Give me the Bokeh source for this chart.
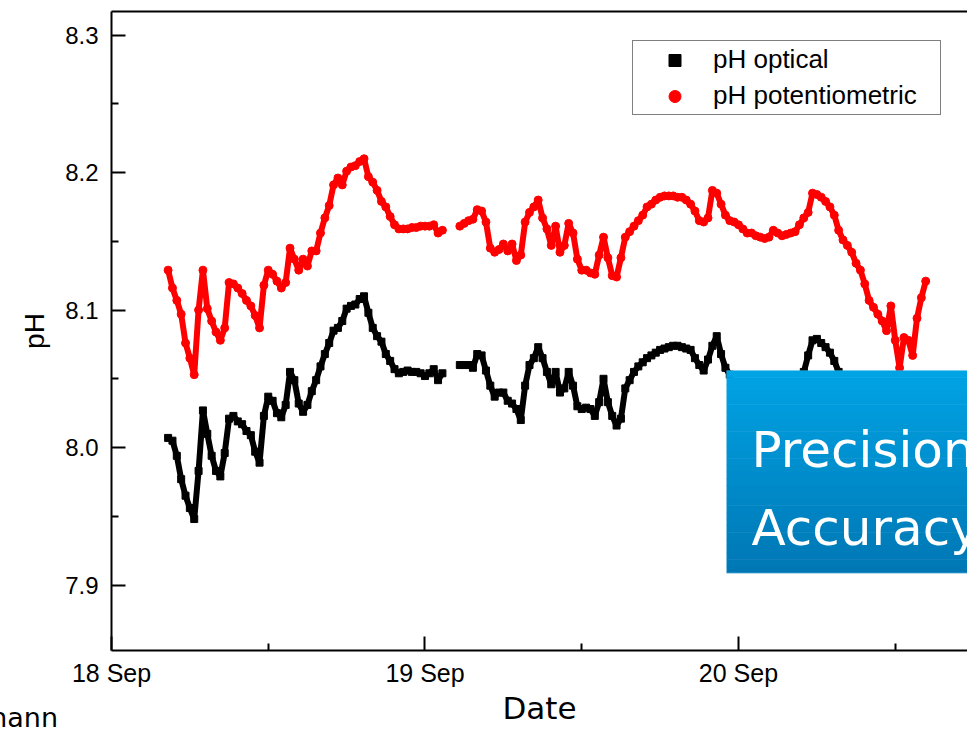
import numpy as np
from bokeh.plotting import figure
from bokeh.layouts import column
from bokeh.models import (ColumnDataSource, FixedTicker, PrintfTickFormatter, LinearAxis,
                          Legend, LegendItem, BoxAnnotation, Label, Range1d, Div)
from bokeh.embed import file_html
from bokeh.resources import INLINE

# pH readings every 20 minutes starting 18 Sep 04:20 (None = no reading)
first_reading_hour = 4 + 20 / 60
reading_step_hour = 20 / 60

ph_potentiometric = [
    8.129, 8.116, 8.107, 8.097, 8.076, 8.065, 8.053, 8.100, 8.129, 8.101,
    8.092, 8.084, 8.078, 8.087, 8.120, 8.119, 8.116, 8.112, 8.107, 8.103,
    8.096, 8.087, 8.118, 8.129, 8.126, 8.121, 8.116, 8.120, 8.145, 8.137,
    8.129, 8.137, 8.132, 8.143, 8.143, 8.156, 8.167, 8.176, 8.191, 8.196,
    8.191, 8.201, 8.204, 8.205, 8.208, 8.210, 8.197, 8.193, 8.187, 8.179,
    8.175, 8.168, 8.162, 8.159, 8.159, 8.159, 8.160, 8.160, 8.161, 8.161,
    8.161, 8.162, 8.156, 8.158, None, None, None, 8.161, 8.163, 8.165,
    8.166, 8.173, 8.172, 8.164, 8.145, 8.142, 8.144, 8.148, 8.143, 8.148,
    8.136, 8.140, 8.164, 8.171, 8.175, 8.180, 8.167, 8.159, 8.147, 8.161,
    8.142, 8.147, 8.163, 8.156, 8.137, 8.129, 8.129, 8.127, 8.126, 8.140,
    8.153, 8.138, 8.125, 8.124, 8.138, 8.153, 8.157, 8.161, 8.165, 8.169,
    8.175, 8.177, 8.180, 8.182, 8.183, 8.183, 8.183, 8.182, 8.182, 8.180,
    8.177, 8.172, 8.165, 8.164, 8.167, 8.187, 8.185, 8.177, 8.169, 8.165,
    8.164, 8.162, 8.159, 8.156, 8.156, 8.154, 8.153, 8.152, 8.153, 8.158,
    8.156, 8.154, 8.155, 8.156, 8.157, 8.162, 8.167, 8.171, 8.185, 8.184,
    8.182, 8.179, 8.175, 8.169, 8.158, 8.151, 8.147, 8.142, 8.134, 8.129,
    8.119, 8.107, 8.102, 8.097, 8.092, 8.085, 8.103, 8.078, 8.058, 8.080,
    8.078, 8.067, 8.094, 8.109, 8.121,
]

ph_optical = [
    8.007, 8.005, 7.994, 7.977, 7.965, 7.956, 7.948, 7.983, 8.027, 8.010,
    7.994, 7.983, 7.979, 7.996, 8.021, 8.023, 8.019, 8.017, 8.012, 8.009,
    7.997, 7.989, 8.023, 8.037, 8.034, 8.025, 8.022, 8.031, 8.055, 8.049,
    8.032, 8.026, 8.031, 8.041, 8.049, 8.059, 8.068, 8.076, 8.085, 8.087,
    8.092, 8.101, 8.103, 8.104, 8.108, 8.110, 8.098, 8.087, 8.081, 8.077,
    8.068, 8.063, 8.057, 8.054, 8.055, 8.056, 8.055, 8.055, 8.054, 8.052,
    8.054, 8.057, 8.049, 8.054, None, None, None, 8.060, 8.060, 8.060,
    8.058, 8.068, 8.067, 8.056, 8.045, 8.037, 8.040, 8.040, 8.034, 8.032,
    8.028, 8.020, 8.045, 8.060, 8.065, 8.073, 8.065, 8.055, 8.046, 8.055,
    8.040, 8.043, 8.055, 8.045, 8.030, 8.028, 8.029, 8.028, 8.023, 8.033,
    8.050, 8.033, 8.023, 8.016, 8.021, 8.043, 8.049, 8.055, 8.059, 8.062,
    8.065, 8.067, 8.069, 8.071, 8.072, 8.073, 8.074, 8.074, 8.073, 8.072,
    8.071, 8.065, 8.060, 8.056, 8.064, 8.074, 8.081, 8.068, 8.058, 8.053,
    None, None, None, None, None, None, None, None, None, None,
    None, None, None, None, None, None, 8.055, 8.067, 8.078, 8.079,
    8.076, 8.073, 8.069, 8.063, 8.055, None, None, None, None, None,
    None, None, None, None, None, None, None, None, None, None,
    None, None, None, None, None,
]

day_ticks = [18, 19, 20]
day_labels = ["18 Sep", "19 Sep", "20 Sep"]
day_minor_ticks = [18.5, 19.5, 20.5]
ph_ticks = [7.9, 8.0, 8.1, 8.2, 8.3]
ph_minor_ticks = [7.95, 8.05, 8.15, 8.25]

series_labels = ["pH optical", "pH potentiometric"]
slide_lines = ["Precision", "Accuracy"]
footer_text = "mann"


def as_float(values):
    return np.array([np.nan if v is None else v for v in values], dtype=float)


n = len(ph_potentiometric)
sep_day = 18 + (first_reading_hour + reading_step_hour * np.arange(n)) / 24
source = ColumnDataSource(dict(day=sep_day,
                               optical=as_float(ph_optical),
                               potentiometric=as_float(ph_potentiometric)))

X_START, X_END = 18.0, 20.7305
Y_START, Y_END = 7.8524, 8.3171

p = figure(width=967, height=729, output_backend="svg", toolbar_location=None,
           x_range=Range1d(X_START, X_END), y_range=Range1d(Y_START, Y_END),
           min_border_left=111, min_border_right=0, min_border_top=11,
           min_border_bottom=79)
p.background_fill_color = "white"
p.border_fill_color = "white"
p.outline_line_color = None
p.grid.visible = False

TICK_FONT = "Liberation Sans"
SLIDE_FONT = "DejaVu Sans"

for ax in (p.xaxis[0], p.yaxis[0]):
    ax.axis_line_width = 2
    ax.axis_line_color = "black"
    ax.major_tick_in = 14
    ax.major_tick_out = 0
    ax.minor_tick_in = 7
    ax.minor_tick_out = 0
    ax.major_tick_line_width = 2
    ax.minor_tick_line_width = 2
    ax.major_label_text_font = TICK_FONT
    ax.major_label_text_color = "black"
    ax.axis_label_text_color = "black"
    ax.axis_label_text_font_style = "normal"

p.xaxis.ticker = FixedTicker(ticks=day_ticks, minor_ticks=day_minor_ticks)
p.xaxis.major_label_overrides = dict(zip(day_ticks, day_labels))
p.xaxis.major_label_text_font_size = "25px"
p.xaxis.major_label_standoff = 8
p.xaxis.axis_label = "Date"
p.xaxis.axis_label_text_font = SLIDE_FONT
p.xaxis.axis_label_text_font_size = "31px"
p.xaxis.axis_label_standoff = 0

p.yaxis.ticker = FixedTicker(ticks=ph_ticks, minor_ticks=ph_minor_ticks)
p.yaxis.formatter = PrintfTickFormatter(format="%.1f")
p.yaxis.major_label_text_font_size = "24px"
p.yaxis.major_label_standoff = 13
p.yaxis.axis_label = "pH"
p.yaxis.axis_label_text_font = TICK_FONT
p.yaxis.axis_label_text_font_size = "28px"
p.yaxis.axis_label_standoff = 12

# top frame line
top_axis = LinearAxis(ticker=FixedTicker(ticks=[]), axis_line_width=2,
                      major_tick_in=0, major_tick_out=0, minor_tick_in=0,
                      minor_tick_out=0, major_label_text_font_size="0px")
p.add_layout(top_axis, "above")

# dense record: overlapping markers over a trace of about the same thickness
p.line("day", "optical", source=source, line_color="black", line_width=6)
p.line("day", "potentiometric", source=source, line_color="#ff0000", line_width=6)
optical = p.scatter("day", "optical", source=source, marker="square", size=7,
                    fill_color="black", line_color="black")
potentio = p.scatter("day", "potentiometric", source=source, marker="circle", size=8,
                     fill_color="#ff0000", line_color="#ff0000")

legend = Legend(items=[LegendItem(label=series_labels[0], renderers=[optical]),
                       LegendItem(label=series_labels[1], renderers=[potentio])],
                location=(521, 535), orientation="vertical",
                padding=3, margin=0, spacing=5,
                glyph_width=77, glyph_height=30, label_height=30,
                label_width=224, label_standoff=0,
                label_text_font=TICK_FONT, label_text_font_size="26px",
                label_text_color="black",
                border_line_color="black", border_line_width=1,
                background_fill_color="white", background_fill_alpha=1)
p.add_layout(legend)

# slide overlay panel with vertical blue gradient
panel_left, panel_top, panel_bottom = 19.962, 8.056, 7.909
top_rgb = (0, 163, 228)
bottom_rgb = (0, 119, 181)
strips = 30
strip_h = (panel_top - panel_bottom) / strips
for i in range(strips):
    t = i / (strips - 1)
    rgb = tuple(int(round(a + (b - a) * t)) for a, b in zip(top_rgb, bottom_rgb))
    p.add_layout(BoxAnnotation(left=panel_left, right=X_END,
                               top=panel_top - i * strip_h,
                               bottom=panel_top - (i + 1) * strip_h - 0.0004,
                               fill_color="#%02x%02x%02x" % rgb, fill_alpha=1,
                               line_color=None))
p.add_layout(BoxAnnotation(left=panel_left, right=X_END, top=panel_top, bottom=panel_bottom,
                           fill_alpha=0, line_color="#5cbfe8", line_width=1))

p.add_layout(Label(x=20.0415, y=7.998, text=slide_lines[0], text_color="white",
                   text_font=SLIDE_FONT, text_font_size="50px",
                   text_baseline="alphabetic", text_align="left"))
p.add_layout(Label(x=20.0415, y=7.9418, text=slide_lines[1], text_color="white",
                   text_font=SLIDE_FONT, text_font_size="50px",
                   text_baseline="alphabetic", text_align="left"))

# footer text tucked into the bottom-left corner, overlapping the figure's border
footer = Div(text=footer_text, width=100, height=22, margin=(-22, 0, 0, -42),
             styles={"font-family": SLIDE_FONT, "font-size": "27px", "color": "black",
                     "line-height": "22px", "text-align": "right",
                     "white-space": "nowrap"})

page = column(p, footer, spacing=0)
open("out.html", "w").write(file_html(page, INLINE))
